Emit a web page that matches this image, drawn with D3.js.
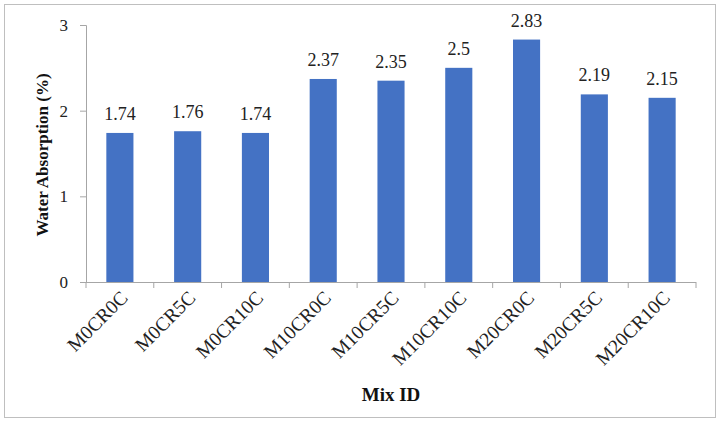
<!DOCTYPE html>
<html><head><meta charset="utf-8">
<script src="https://cdn.jsdelivr.net/npm/d3@7"></script>
<style>body{margin:0;background:#fff}svg{display:block}svg text{font-family:"Liberation Serif","Times New Roman",serif}</style>
</head><body>
<script>
const categories = ["M0CR0C","M0CR5C","M0CR10C","M10CR0C","M10CR5C","M10CR10C","M20CR0C","M20CR5C","M20CR10C"];
const values = [1.74,1.76,1.74,2.37,2.35,2.5,2.83,2.19,2.15];
const valueLabels = ["1.74","1.76","1.74","2.37","2.35","2.5","2.83","2.19","2.15"];
const yTicks = [0,1,2,3];

const W=720,H=434;
const svg=d3.select("body").append("svg").attr("width",W).attr("height",H);
svg.append("rect").attr("x",4.5).attr("y",4.5).attr("width",711).attr("height",413)
  .attr("fill","#fff").attr("stroke","#bfbfbf").attr("stroke-width",1);

const x=d3.scaleBand().domain(categories).range([86,696]).paddingInner(0.6).paddingOuter(0.3);
const y=d3.scaleLinear().domain([0,3]).range([282,25]);

const g=svg.append("g");
g.selectAll("rect.bar").data(values).join("rect").attr("class","bar")
  .attr("x",(d,i)=>x(categories[i])).attr("width",x.bandwidth())
  .attr("y",d=>y(d)).attr("height",d=>y(0)-y(d)).attr("fill","#4472C4");

g.selectAll("text.vl").data(values).join("text").attr("class","vl")
  .attr("x",(d,i)=>x(categories[i])+x.bandwidth()/2).attr("y",d=>y(d)-13)
  .attr("text-anchor","middle").style("font-size","18px").attr("fill","#222")
  .text((d,i)=>valueLabels[i]);

// y axis
const ya=svg.append("g").attr("transform","translate(86,0)")
  .call(d3.axisLeft(y).tickValues(yTicks).tickSize(6).tickPadding(12).tickFormat(d3.format("d")));
ya.attr("font-family",null).attr("font-size",null);
ya.select(".domain").attr("stroke","#a6a6a6");
ya.selectAll(".tick line").attr("stroke","#a6a6a6");
ya.selectAll(".tick text").style("font-size","17px").attr("fill","#222");

// x axis
const band=(696-86)/categories.length;
const xa=svg.append("g").attr("transform","translate(0,282)");
xa.append("line").attr("x1",86).attr("x2",696).attr("y1",0.5).attr("y2",0.5).attr("stroke","#a6a6a6");
xa.selectAll("line.t").data(d3.range(categories.length+1)).join("line").attr("class","t")
  .attr("x1",d=>86+d*band).attr("x2",d=>86+d*band).attr("y1",0).attr("y2",6).attr("stroke","#a6a6a6");
xa.selectAll("text").data(categories).join("text")
  .attr("transform",d=>`translate(${x(d)+x.bandwidth()/2+9},${17}) rotate(-45)`)
  .attr("text-anchor","end").style("font-size","19.5px").attr("fill","#222")
  .text(d=>d);

svg.append("text").attr("transform","translate(48,155) rotate(-90)").attr("text-anchor","middle")
  .attr("font-weight","bold").style("font-size","17px").attr("fill","#111")
  .text("Water Absorption (%)");
svg.append("text").attr("x",391).attr("y",401).attr("text-anchor","middle")
  .attr("font-weight","bold").style("font-size","19px").attr("fill","#111")
  .text("Mix ID");
</script>
</body></html>
